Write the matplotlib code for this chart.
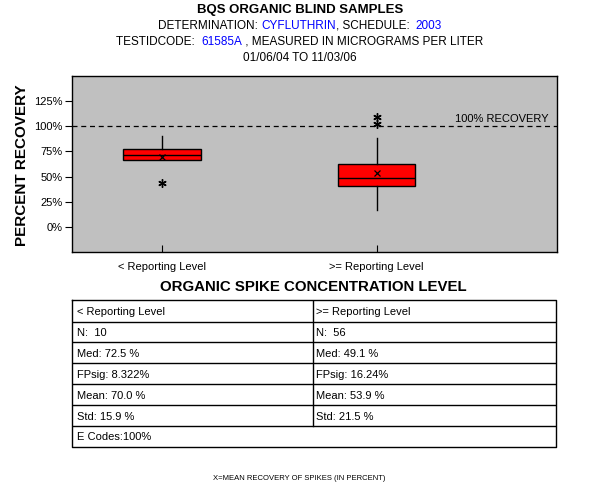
import matplotlib
matplotlib.use("Agg")
import matplotlib.pyplot as plt

plt.rcParams['font.family'] = ['Liberation Sans', 'DejaVu Sans']

# ---- data ----
categories = ["< Reporting Level", ">= Reporting Level"]
q1 = [66.3, 40.5]
q3 = [77.2, 62.3]
medians = [71.5, 49.0]
whisk_lo = [66.3, 17.0]
whisk_hi = [90.4, 88.4]
means = [69.2, 54.0]
outliers = [[43.8], [102.0, 109.0]]
yticks = [0, 25, 50, 75, 100, 125]
ytick_labels = ["0%", "25%", "50%", "75%", "100%", "125%"]

n_vals = ["10", "56"]
med_vals = ["72.5", "49.1"]
fpsig_vals = ["8.322", "16.24"]
mean_vals = ["70.0", "53.9"]
std_vals = ["15.9", "21.5"]
ecodes = "100%"

W, H = 600, 500
fig = plt.figure(figsize=(6, 5), dpi=100)

def fx(px):
    return px / W

def fy(py):
    return 1 - py / H

# ---- titles ----
fig.text(0.5, fy(10), "BQS ORGANIC BLIND SAMPLES", ha='center', va='center',
         fontsize=9.5, fontweight='heavy')

def colored_line(y, parts, fontsize=8.5):
    r = fig.canvas.get_renderer()
    texts = []
    for s, c in parts:
        t = fig.text(0, fy(y), s, color=c, fontsize=fontsize, va='center', ha='left')
        texts.append(t)
    widths = [t.get_window_extent(renderer=r).width for t in texts]
    total = sum(widths)
    x = W / 2 - total / 2
    for t, w in zip(texts, widths):
        t.set_x(fx(x))
        x += w

colored_line(26, [("DETERMINATION: ", "black"), ("CYFLUTHRIN", "#0000FF"),
                  (", SCHEDULE:  ", "black"), ("2003", "#0000FF")])
colored_line(42, [("TESTIDCODE:  ", "black"), ("61585A", "#0000FF"),
                  (" , MEASURED IN MICROGRAMS PER LITER", "black")])
colored_line(58, [("01/06/04 TO 11/03/06", "black")])

# ---- box plot axes ----
ax = fig.add_axes([fx(72), fy(252), fx(556.5) - fx(72), fy(76) - fy(252)])
ax.set_facecolor('#C0C0C0')
stats = []
for i in range(len(categories)):
    stats.append(dict(med=medians[i], q1=q1[i], q3=q3[i], whislo=whisk_lo[i],
                      whishi=whisk_hi[i], fliers=outliers[i], mean=means[i],
                      label=categories[i]))
positions = [1, 2]
ax.bxp(stats, positions=positions, widths=0.36, patch_artist=True,
       showmeans=True, showcaps=False,
       boxprops=dict(facecolor='#FF0000', edgecolor='black', linewidth=1.0),
       medianprops=dict(color='black', linewidth=1.0),
       whiskerprops=dict(color='black', linewidth=1.0),
       flierprops=dict(marker=(6, 2, 0), markerfacecolor='black', markeredgecolor='black',
                       markersize=6, markeredgewidth=1.0, linestyle='none'),
       meanprops=dict(marker='x', markeredgecolor='black', markersize=5,
                      markeredgewidth=0.9))
ax.axhline(100, color='black', linestyle=(0, (4, 3)), linewidth=0.9)
ax.text(2.8, 102, "100% RECOVERY", ha='right', va='bottom', fontsize=8)
ax.set_xlim(0.581, 2.837)
ax.set_ylim(-25, 150)
ax.set_yticks(yticks)
ax.set_yticklabels(ytick_labels, fontsize=8)
ax.set_xticks(positions)
ax.set_xticklabels(categories, fontsize=8)
ax.tick_params(axis='y', direction='out', length=5, width=0.8, pad=2)
ax.tick_params(axis='x', direction='in', length=5, width=0.8, pad=7)
for s in ax.spines.values():
    s.set_linewidth(1.0)
fig.text(fx(22), fy(165), "PERCENT RECOVERY", rotation=90, ha='center', va='center',
         fontsize=11, fontweight='bold')

# ---- table section ----
fig.text(fx(313), fy(287), "ORGANIC SPIKE CONCENTRATION LEVEL", ha='center',
         va='center', fontsize=10.8, fontweight='bold')

tx0, tx1, tdiv = 72, 556, 312.5
rows = [300.3, 321.5, 342.3, 363.2, 384.1, 405, 426, 447]
tax = fig.add_axes([fx(tx0), fy(rows[-1]), fx(tx1) - fx(tx0), fy(rows[0]) - fy(rows[-1])])
tax.set_xlim(tx0, tx1)
tax.set_ylim(rows[-1], rows[0])
tax.axis('off')
lw = 1.0
tax.plot([tx0, tx1, tx1, tx0, tx0], [rows[0], rows[0], rows[-1], rows[-1], rows[0]],
         color='black', lw=lw, clip_on=False)
for r in rows[1:-1]:
    tax.plot([tx0, tx1], [r, r], color='black', lw=lw)
tax.plot([tdiv, tdiv], [rows[0], rows[-2]], color='black', lw=lw)

left_col = [categories[0], "N:  " + n_vals[0], "Med: " + med_vals[0] + " %",
            "FPsig: " + fpsig_vals[0] + "%", "Mean: " + mean_vals[0] + " %",
            "Std: " + std_vals[0] + " %"]
right_col = [categories[1], "N:  " + n_vals[1], "Med: " + med_vals[1] + " %",
             "FPsig: " + fpsig_vals[1] + "%", "Mean: " + mean_vals[1] + " %",
             "Std: " + std_vals[1] + " %"]
for i in range(6):
    yc = (rows[i] + rows[i + 1]) / 2 + 1
    tax.text(tx0 + 5, yc, left_col[i], ha='left', va='center', fontsize=8)
    tax.text(tdiv + 4, yc, right_col[i], ha='left', va='center', fontsize=8)
tax.text(tx0 + 5, (rows[6] + rows[7]) / 2 + 1, "E Codes:" + ecodes, ha='left',
         va='center', fontsize=8)

fig.text(fx(299), fy(478), "X=MEAN RECOVERY OF SPIKES (IN PERCENT)", ha='center',
         va='center', fontsize=5.5)

fig.savefig("out.png", dpi=100)
